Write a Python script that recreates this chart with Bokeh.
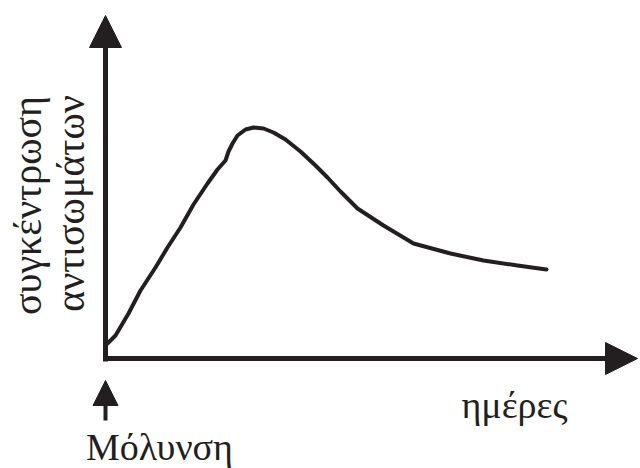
from bokeh.plotting import figure
from bokeh.models import Range1d, Arrow, NormalHead
from bokeh.core.properties import value
from bokeh.embed import file_html
from bokeh.resources import INLINE

# Antibody concentration curve (arbitrary units)
days = [0.2, 1.0, 2.3, 3.5, 5.0, 6.2, 7.5, 8.8, 10.2, 11.2, 12.0, 12.3, 12.7,
        13.2, 14.0, 14.8, 15.8, 16.8, 18.0, 19.5, 21.0, 22.2, 23.5, 25.2,
        27.8, 30.8, 34.5, 37.8, 41.2, 44.1]
conc = [15, 23, 45, 68, 91, 111, 131, 154, 175, 189, 198, 207, 215,
        223, 229, 231, 230, 226, 219, 207, 193, 181, 167, 150,
        133, 115, 105, 98, 93, 89]

y_label_lines = ["συγκέντρωση", "αντισωμάτων"]
x_label = "ημέρες"
event_label = "Μόλυνση"

INK = "#231f20"
FONT = value("Liberation Serif")

p = figure(width=640, height=468, output_backend="svg", toolbar_location=None,
           x_range=Range1d(-10.5, 53.5), y_range=Range1d(-110, 358),
           x_axis_type=None, y_axis_type=None, min_border=0,
           min_border_left=0, min_border_right=0, min_border_top=0,
           min_border_bottom=0)
p.grid.visible = False
p.outline_line_color = None
p.background_fill_color = "white"
p.border_fill_color = "white"

# axes drawn as arrows
p.add_layout(Arrow(end=NormalHead(size=32, fill_color=INK, line_color=INK),
                   x_start=0, y_start=-3, x_end=0, y_end=343,
                   line_width=5, line_color=INK))
p.add_layout(Arrow(end=NormalHead(size=32, fill_color=INK, line_color=INK),
                   x_start=-0.2, y_start=0, x_end=53.2, y_end=0,
                   line_width=5, line_color=INK))
# infection marker arrow
p.add_layout(Arrow(end=NormalHead(size=25, fill_color=INK, line_color=INK),
                   x_start=0, y_start=-62, x_end=0, y_end=-22,
                   line_width=4, line_color=INK))

p.line(days, conc, line_width=4, line_color=INK, line_join="round", line_cap="round")

p.text(x=[-7.8, -3.5], y=[153, 155], text=y_label_lines, angle=1.5707963,
       text_align="center", text_baseline="alphabetic",
       text_font=FONT, text_font_size="40px", text_color=INK)
p.text(x=[40.9], y=[-46], text=[x_label], text_align="center",
       text_baseline="alphabetic", text_font=FONT, text_font_size="38px",
       text_color=INK)
p.text(x=[5.4], y=[-88], text=[event_label], text_align="center",
       text_baseline="alphabetic", text_font=FONT, text_font_size="38px",
       text_color=INK)

open("out.html", "w").write(file_html(p, INLINE))
